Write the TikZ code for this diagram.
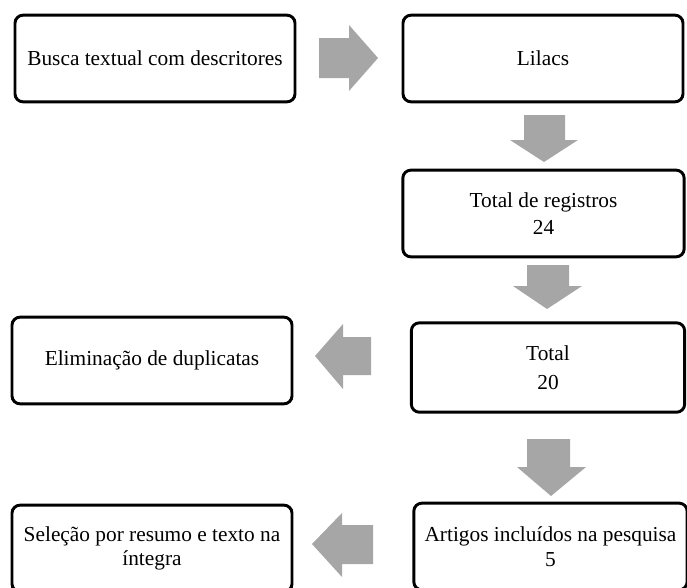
\documentclass[tikz,border=0pt]{standalone}
\usepackage{fontspec}
\setmainfont{Liberation Serif}
\usepackage{tikz}
\usetikzlibrary{positioning}

\definecolor{arrowgray}{HTML}{A6A6A6}

\tikzset{
  stagebox/.style={draw=black, line width=2.2pt, rounded corners=6pt, fill=white,
    align=center, inner sep=2pt, font=\fontsize{16}{20}\selectfont},
  blockarrow/.style={fill=arrowgray, draw=none}
}

\begin{document}
\begin{tikzpicture}[x=0.75pt, y=-0.75pt]

    \useasboundingbox (0,0) rectangle (687,587);
    \clip (0,0) rectangle (687,587);

    % Draw the stage boxes
    \node[stagebox, minimum width=210pt, minimum height=65pt] (busca) at (155,58.5) {Busca textual com descritores};
    \node[stagebox, minimum width=210pt, minimum height=65pt] (lilacs) at (543,58.5) {Lilacs};
    \node[stagebox, minimum width=211pt, minimum height=65pt] (registros) at (543.5,213.5) {Total de registros\\24};
    \node[stagebox, minimum width=205pt, minimum height=67pt] (total) at (548,367.5) {Total\\[2pt]20};
    \node[stagebox, minimum width=210pt, minimum height=65pt] (duplicatas) at (152,360.5) {Eliminação de duplicatas};
    \node[stagebox, minimum width=205pt, minimum height=65pt] (artigos) at (550.5,546.5) {Artigos incluídos na pesquisa\\[-1pt]5};
    \node[stagebox, minimum width=210pt, minimum height=65pt] (selecao) at (152,548.5) {Seleção por resumo e texto na\\[-2pt]íntegra};

    % Busca -> Lilacs
    \fill[blockarrow] (319,38) -- (349,38) -- (349,25) -- (378,58) -- (349,91) -- (349,78) -- (319,78) -- cycle;

    % Lilacs -> Total de registros
    \fill[blockarrow] (524,115) -- (565,115) -- (565,140) -- (578,140) -- (544,162) -- (510,140) -- (524,140) -- cycle;

    % Total de registros -> Total
    \fill[blockarrow] (527,265) -- (569,265) -- (569,286) -- (582,286) -- (547,309) -- (513,286) -- (527,286) -- cycle;

    % Total -> Eliminacao de duplicatas
    \fill[blockarrow] (371,337) -- (371,375) -- (343,375) -- (343,389) -- (315,356) -- (343,324) -- (343,337) -- cycle;

    % Total -> Artigos incluidos
    \fill[blockarrow] (527,439) -- (570,439) -- (570,467) -- (586,467) -- (551,496) -- (517,467) -- (527,467) -- cycle;

    % Artigos incluidos -> Selecao
    \fill[blockarrow] (373,525) -- (373,564) -- (342,564) -- (342,577) -- (312,544) -- (342,513) -- (342,525) -- cycle;

\end{tikzpicture}
\end{document}
